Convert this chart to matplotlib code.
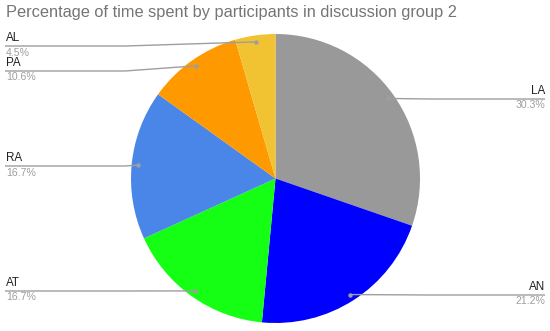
import numpy as np
import matplotlib
matplotlib.use("Agg")
import matplotlib.pyplot as plt

labels = ["LA", "AN", "AT", "RA", "PA", "AL"]
values = [30.3, 21.2, 16.7, 16.7, 10.6, 4.5]
colors = ["#999999", "#0000ff", "#14ff14", "#4a86e8", "#ff9900", "#f1c232"]

plt.rcParams['font.family'] = ['Liberation Sans', 'DejaVu Sans']

W, H = 550, 331
fig = plt.figure(figsize=(W / 100, H / 100), dpi=100)
ax = fig.add_axes([0, 0, 1, 1])

def Y(y):
    # layout given in top-down pixels
    return H - y

cx, cy, R = 275.5, Y(178.5), 144.5
wedges, _ = ax.pie(values, colors=colors, startangle=90, counterclock=False,
                   center=(cx, cy), radius=R, frame=True,
                   wedgeprops=dict(linewidth=0))

ax.set_xlim(0, W)
ax.set_ylim(0, H)
ax.set_aspect('equal')
ax.axis('off')

ax.text(6, Y(5), "Percentage of time spent by participants in discussion group 2",
        fontsize=11.8, color="#757575", ha='left', va='top')

# label line heights (top-down px)
label_y = {"LA": 99, "AN": 295, "AT": 291, "RA": 166, "PA": 71, "AL": 46}
line_col = "#9e9e9e"
for w, lab, v in zip(wedges, labels, values):
    mid = np.deg2rad((w.theta1 + w.theta2) / 2)
    dx = cx + 0.955 * R * np.cos(mid)
    dy = cy + 0.955 * R * np.sin(mid)
    ly = Y(label_y[lab])
    if dx < cx:
        xs = [5, 125, dx]
        tx, ha = 6, 'left'
    else:
        xs = [545, 430, dx]
        tx, ha = 545, 'right'
    ax.plot(xs, [ly, ly, dy], color=line_col, lw=1, solid_capstyle='butt')
    ax.plot([dx], [dy], 'o', color=line_col, ms=3.2, mec='none')
    ax.text(tx, ly + 2, lab, fontsize=8.4, color="#222222", ha=ha, va='bottom')
    ax.text(tx, ly - 1.5, f"{v}%", fontsize=7.6, color="#9e9e9e", ha=ha, va='top')

fig.savefig("out.png", dpi=100)
